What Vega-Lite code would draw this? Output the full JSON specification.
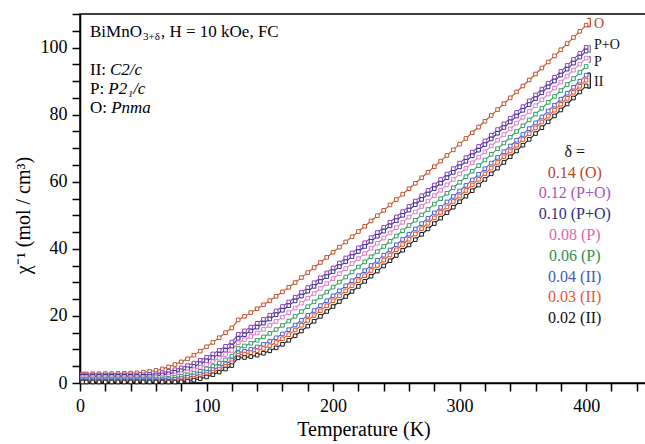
{
"$schema":"https://vega.github.io/schema/vega-lite/v6.json",
"width":567,"height":369,
"autosize":{"type":"none"},
"padding":{"left":80,"top":14,"right":0,"bottom":61},
"background":"white",
"config":{"view":{"stroke":"black","strokeWidth":1.5},"font":"Liberation Serif, Times New Roman, serif",
"style":{"guide-label":{"font":"Liberation Serif, Times New Roman, serif"},"guide-title":{"font":"Liberation Serif, Times New Roman, serif"}},
"axis":{"labelFont":"Liberation Serif, Times New Roman, serif","titleFont":"Liberation Serif, Times New Roman, serif","labelOverlap":false,"labelFlush":false,"grid":false}},
"datasets":{
"curves":[
{"T":2,"a":2.7,"b":2.4,"c":2.0,"d":1.6,"e":1.2,"f":0.9,"g":0.5,"h":0.3},
{"T":5,"a":2.7,"b":2.4,"c":2.0,"d":1.6,"e":1.2,"f":0.9,"g":0.5,"h":0.3},
{"T":10,"a":2.75,"b":2.4,"c":2.0,"d":1.6,"e":1.2,"f":0.9,"g":0.5,"h":0.3},
{"T":15,"a":2.75,"b":2.4,"c":2.0,"d":1.6,"e":1.2,"f":0.9,"g":0.5,"h":0.3},
{"T":20,"a":2.8,"b":2.4,"c":2.0,"d":1.6,"e":1.2,"f":0.9,"g":0.5,"h":0.3},
{"T":25,"a":2.8,"b":2.4,"c":2.0,"d":1.6,"e":1.2,"f":0.9,"g":0.5,"h":0.3},
{"T":30,"a":2.85,"b":2.4,"c":2.0,"d":1.6,"e":1.2,"f":0.9,"g":0.5,"h":0.3},
{"T":35,"a":2.9,"b":2.4,"c":2.0,"d":1.6,"e":1.2,"f":0.9,"g":0.5,"h":0.3},
{"T":40,"a":2.95,"b":2.4,"c":2.0,"d":1.6,"e":1.2,"f":0.9,"g":0.5,"h":0.3},
{"T":45,"a":3.05,"b":2.4,"c":2.0,"d":1.6,"e":1.2,"f":0.9,"g":0.5,"h":0.3},
{"T":50,"a":3.2,"b":2.44,"c":2.0,"d":1.6,"e":1.2,"f":0.9,"g":0.5,"h":0.3},
{"T":55,"a":3.45,"b":2.57,"c":2.05,"d":1.6,"e":1.2,"f":0.9,"g":0.5,"h":0.3},
{"T":60,"a":3.75,"b":2.79,"c":2.18,"d":1.65,"e":1.2,"f":0.9,"g":0.5,"h":0.3},
{"T":65,"a":4.2,"b":3.1,"c":2.41,"d":1.79,"e":1.25,"f":0.9,"g":0.5,"h":0.3},
{"T":70,"a":4.8,"b":3.49,"c":2.73,"d":2.03,"e":1.39,"f":0.95,"g":0.5,"h":0.3},
{"T":75,"a":5.5,"b":3.97,"c":3.15,"d":2.37,"e":1.63,"f":1.09,"g":0.56,"h":0.3},
{"T":80,"a":6.3,"b":4.53,"c":3.65,"d":2.8,"e":1.96,"f":1.33,"g":0.72,"h":0.36},
{"T":85,"a":7.2,"b":5.19,"c":4.25,"d":3.33,"e":2.38,"f":1.67,"g":1.0,"h":0.54},
{"T":90,"a":8.3,"b":5.93,"c":4.94,"d":3.95,"e":2.9,"f":2.1,"g":1.38,"h":0.84},
{"T":95,"a":9.5,"b":6.76,"c":5.72,"d":4.67,"e":3.51,"f":2.63,"g":1.88,"h":1.27},
{"T":100,"a":10.8,"b":7.67,"c":6.59,"d":5.48,"e":4.22,"f":3.25,"g":2.48,"h":1.81},
{"T":105,"a":12.1,"b":8.67,"c":7.56,"d":6.39,"e":5.03,"f":3.97,"g":3.2,"h":2.48},
{"T":110,"a":13.5,"b":9.76,"c":8.61,"d":7.4,"e":5.92,"f":4.78,"g":4.02,"h":3.26},
{"T":115,"a":15.0,"b":10.94,"c":9.76,"d":8.5,"e":6.91,"f":5.69,"g":4.96,"h":4.17},
{"T":120,"a":16.4,"b":12.2,"c":11.0,"d":9.7,"e":8.0,"f":6.7,"g":6.0,"h":5.2},
{"T":125,"a":18.8,"b":14.5,"c":13.3,"d":12.0,"e":10.3,"f":9.0,"g":8.3,"h":7.5},
{"T":130,"a":19.87,"b":15.55,"c":14.37,"d":12.91,"e":11.04,"f":9.47,"g":8.6,"h":7.61},
{"T":135,"a":20.98,"b":16.65,"c":15.48,"d":13.87,"e":11.85,"f":10.04,"g":9.03,"h":7.87},
{"T":140,"a":22.13,"b":17.79,"c":16.64,"d":14.9,"e":12.75,"f":10.74,"g":9.59,"h":8.29},
{"T":145,"a":23.32,"b":18.98,"c":17.84,"d":15.99,"e":13.73,"f":11.54,"g":10.29,"h":8.86},
{"T":150,"a":24.56,"b":20.21,"c":19.08,"d":17.15,"e":14.8,"f":12.46,"g":11.12,"h":9.59},
{"T":155,"a":25.84,"b":21.48,"c":20.36,"d":18.36,"e":15.94,"f":13.49,"g":12.08,"h":10.48},
{"T":160,"a":27.16,"b":22.8,"c":21.68,"d":19.64,"e":17.17,"f":14.64,"g":13.18,"h":11.52},
{"T":165,"a":28.53,"b":24.16,"c":23.05,"d":20.97,"e":18.47,"f":15.9,"g":14.41,"h":12.72},
{"T":170,"a":29.94,"b":25.57,"c":24.47,"d":22.37,"e":19.87,"f":17.27,"g":15.77,"h":14.07},
{"T":175,"a":31.43,"b":27.0,"c":25.9,"d":23.8,"e":21.3,"f":18.7,"g":17.2,"h":15.5},
{"T":180,"a":32.92,"b":28.45,"c":27.35,"d":25.25,"e":22.75,"f":20.15,"g":18.65,"h":16.95},
{"T":185,"a":34.42,"b":29.9,"c":28.8,"d":26.7,"e":24.2,"f":21.6,"g":20.1,"h":18.4},
{"T":190,"a":35.93,"b":31.36,"c":30.26,"d":28.16,"e":25.66,"f":23.06,"g":21.56,"h":19.86},
{"T":195,"a":37.45,"b":32.82,"c":31.72,"d":29.62,"e":27.12,"f":24.52,"g":23.02,"h":21.32},
{"T":200,"a":38.97,"b":34.3,"c":33.2,"d":31.1,"e":28.6,"f":26.0,"g":24.5,"h":22.8},
{"T":205,"a":40.5,"b":35.78,"c":34.68,"d":32.58,"e":30.08,"f":27.48,"g":25.98,"h":24.28},
{"T":210,"a":42.05,"b":37.28,"c":36.18,"d":34.08,"e":31.58,"f":28.98,"g":27.48,"h":25.78},
{"T":215,"a":43.6,"b":38.78,"c":37.68,"d":35.58,"e":33.08,"f":30.48,"g":28.98,"h":27.28},
{"T":220,"a":45.15,"b":40.29,"c":39.19,"d":37.09,"e":34.59,"f":31.99,"g":30.49,"h":28.79},
{"T":225,"a":46.72,"b":41.8,"c":40.7,"d":38.6,"e":36.1,"f":33.5,"g":32.0,"h":30.3},
{"T":230,"a":48.3,"b":43.33,"c":42.23,"d":40.13,"e":37.63,"f":35.03,"g":33.53,"h":31.83},
{"T":235,"a":49.88,"b":44.86,"c":43.76,"d":41.66,"e":39.16,"f":36.56,"g":35.06,"h":33.36},
{"T":240,"a":51.47,"b":46.4,"c":45.3,"d":43.2,"e":40.7,"f":38.1,"g":36.6,"h":34.9},
{"T":245,"a":53.07,"b":47.95,"c":46.85,"d":44.75,"e":42.25,"f":39.65,"g":38.15,"h":36.45},
{"T":250,"a":54.68,"b":49.51,"c":48.41,"d":46.31,"e":43.81,"f":41.21,"g":39.71,"h":38.01},
{"T":255,"a":56.29,"b":51.08,"c":49.98,"d":47.88,"e":45.38,"f":42.78,"g":41.28,"h":39.58},
{"T":260,"a":57.91,"b":52.65,"c":51.55,"d":49.45,"e":46.95,"f":44.35,"g":42.85,"h":41.15},
{"T":265,"a":59.54,"b":54.23,"c":53.13,"d":51.03,"e":48.53,"f":45.93,"g":44.43,"h":42.73},
{"T":270,"a":61.18,"b":55.82,"c":54.72,"d":52.62,"e":50.12,"f":47.52,"g":46.02,"h":44.32},
{"T":275,"a":62.83,"b":57.42,"c":56.32,"d":54.22,"e":51.72,"f":49.12,"g":47.62,"h":45.92},
{"T":280,"a":64.49,"b":59.03,"c":57.93,"d":55.83,"e":53.33,"f":50.73,"g":49.23,"h":47.53},
{"T":285,"a":66.15,"b":60.65,"c":59.55,"d":57.45,"e":54.95,"f":52.35,"g":50.85,"h":49.15},
{"T":290,"a":67.83,"b":62.27,"c":61.17,"d":59.07,"e":56.57,"f":53.97,"g":52.47,"h":50.77},
{"T":295,"a":69.51,"b":63.9,"c":62.8,"d":60.7,"e":58.2,"f":55.6,"g":54.1,"h":52.4},
{"T":300,"a":71.2,"b":65.54,"c":64.44,"d":62.34,"e":59.84,"f":57.24,"g":55.74,"h":54.04},
{"T":305,"a":72.9,"b":67.19,"c":66.09,"d":63.99,"e":61.49,"f":58.89,"g":57.39,"h":55.69},
{"T":310,"a":74.6,"b":68.84,"c":67.74,"d":65.64,"e":63.14,"f":60.54,"g":59.04,"h":57.34},
{"T":315,"a":76.31,"b":70.51,"c":69.41,"d":67.31,"e":64.81,"f":62.21,"g":60.71,"h":59.01},
{"T":320,"a":78.03,"b":72.18,"c":71.08,"d":68.98,"e":66.48,"f":63.88,"g":62.38,"h":60.68},
{"T":325,"a":79.76,"b":73.86,"c":72.76,"d":70.66,"e":68.16,"f":65.56,"g":64.06,"h":62.36},
{"T":330,"a":81.5,"b":75.55,"c":74.45,"d":72.35,"e":69.85,"f":67.25,"g":65.75,"h":64.05},
{"T":335,"a":83.25,"b":77.25,"c":76.15,"d":74.05,"e":71.55,"f":68.95,"g":67.45,"h":65.75},
{"T":340,"a":85.01,"b":78.95,"c":77.85,"d":75.75,"e":73.25,"f":70.65,"g":69.15,"h":67.45},
{"T":345,"a":86.77,"b":80.67,"c":79.57,"d":77.47,"e":74.97,"f":72.37,"g":70.87,"h":69.17},
{"T":350,"a":88.54,"b":82.39,"c":81.29,"d":79.19,"e":76.69,"f":74.09,"g":72.59,"h":70.89},
{"T":355,"a":90.32,"b":84.12,"c":83.02,"d":80.92,"e":78.42,"f":75.82,"g":74.32,"h":72.62},
{"T":360,"a":92.11,"b":85.86,"c":84.76,"d":82.66,"e":80.16,"f":77.56,"g":76.06,"h":74.36},
{"T":365,"a":93.9,"b":87.61,"c":86.51,"d":84.41,"e":81.91,"f":79.31,"g":77.81,"h":76.11},
{"T":370,"a":95.7,"b":89.36,"c":88.26,"d":86.16,"e":83.66,"f":81.06,"g":79.56,"h":77.86},
{"T":375,"a":97.52,"b":91.12,"c":90.02,"d":87.92,"e":85.42,"f":82.82,"g":81.32,"h":79.62},
{"T":380,"a":99.34,"b":92.89,"c":91.79,"d":89.69,"e":87.19,"f":84.59,"g":83.09,"h":81.39},
{"T":385,"a":101.16,"b":94.67,"c":93.57,"d":91.47,"e":88.97,"f":86.37,"g":84.87,"h":83.17},
{"T":390,"a":103.0,"b":96.46,"c":95.36,"d":93.26,"e":90.76,"f":88.16,"g":86.66,"h":84.96},
{"T":395,"a":104.85,"b":98.26,"c":97.16,"d":95.06,"e":92.56,"f":89.96,"g":88.46,"h":86.76},
{"T":400,"a":106.7,"b":100.06,"c":98.96,"d":96.86,"e":94.36,"f":91.76,"g":90.26,"h":88.56}
],
"topleft":[
{"T":7.9,"v":104.6,"t":"BiMnO"},
{"T":64.0,"v":104.6,"t":", H = 10 kOe, FC"},
{"T":7.9,"v":93.3,"t":"II:"},
{"T":7.9,"v":87.6,"t":"P:"},
{"T":7.9,"v":82.0,"t":"O:"}
],
"sub":[{"T":49.8,"v":103.0,"t":"3+δ"}],
"ital":[
{"T":23.7,"v":93.3,"t":"C2/c"},
{"T":22.4,"v":87.6,"t":"P2₁/c"},
{"T":24.6,"v":82.0,"t":"Pnma"}
],
"legend":[
{"T":391,"v":68.9,"t":"δ ="},
{"T":391,"v":62.6,"t":"0.14 (O)"},
{"T":391,"v":56.6,"t":"0.12 (P+O)"},
{"T":391,"v":50.4,"t":"0.10 (P+O)"},
{"T":391,"v":44.1,"t":"0.08 (P)"},
{"T":391,"v":37.9,"t":"0.06 (P)"},
{"T":391,"v":31.6,"t":"0.04 (II)"},
{"T":391,"v":25.6,"t":"0.03 (II)"},
{"T":391,"v":19.4,"t":"0.02 (II)"}
],
"phase":[
{"T":406.2,"v":107.0,"t":"O"},
{"T":406.2,"v":100.7,"t":"P+O"},
{"T":406.2,"v":95.7,"t":"P"},
{"T":406.2,"v":89.7,"t":"II"}
],
"brackets":[
{"g":"O","T":401.0,"T2":403.3,"v":108.7,"v2":108.7},
{"g":"O","T":403.3,"T2":403.3,"v":108.7,"v2":106.2},
{"g":"O","T":401.0,"T2":403.3,"v":106.2,"v2":106.2},
{"g":"P+O","T":402.0,"T2":403.3,"v":100.6,"v2":100.6},
{"g":"P+O","T":403.3,"T2":403.3,"v":100.6,"v2":98.6},
{"g":"P+O","T":402.0,"T2":403.3,"v":98.6,"v2":98.6},
{"g":"P","T":402.0,"T2":403.3,"v":97.3,"v2":97.3},
{"g":"P","T":403.3,"T2":403.3,"v":97.3,"v2":95.6},
{"g":"P","T":402.0,"T2":403.3,"v":95.6,"v2":95.6},
{"g":"II","T":401.0,"T2":403.3,"v":92.4,"v2":92.4},
{"g":"II","T":403.3,"T2":403.3,"v":92.4,"v2":87.9},
{"g":"II","T":401.0,"T2":403.3,"v":87.9,"v2":87.9}
]
},
"encoding":{
"x":{"field":"T","type":"quantitative","title":"Temperature (K)","scale":{"domain":[0,448.1],"nice":false,"zero":false},
"axis":{"values":[0,20,40,60,80,100,120,140,160,180,200,220,240,260,280,300,320,340,360,380,400,420,440],
"labelExpr":"datum.value % 100 === 0 ? datum.label : ''","grid":false,"tickSize":8,"tickWidth":1.5,"tickColor":"black",
"domainColor":"black","domainWidth":1.5,"labelFont":"Liberation Serif, Times New Roman, serif","labelFontSize":18,"labelColor":"black","labelPadding":6,
"labelFlush":false,"labelOverlap":false,"titleFont":"Liberation Serif, Times New Roman, serif","titleFontSize":20,"titleFontWeight":"normal","titleColor":"black","titlePadding":4}},
"y":{"field":"v","type":"quantitative","title":"χ⁻¹ (mol / cm³)","scale":{"domain":[0,110],"nice":false,"zero":false},
"axis":{"values":[0,5,10,15,20,25,30,35,40,45,50,55,60,65,70,75,80,85,90,95,100,105,110],
"labelExpr":"datum.value % 20 === 0 ? datum.label : ''","grid":false,"tickSize":8,"tickWidth":1.5,"tickColor":"black",
"domainColor":"black","domainWidth":1.5,"labelFont":"Liberation Serif, Times New Roman, serif","labelFontSize":18,"labelColor":"black","labelPadding":5,
"labelFlush":false,"labelOverlap":false,"titleFont":"Liberation Serif, Times New Roman, serif","titleFontSize":20,"titleFontWeight":"normal","titleColor":"black",
"titleAngle":-90,"titleX":-57,"titleY":201,"titleAlign":"center","titleBaseline":"middle"}}
},
"layer":[
{
"data":{"name":"curves"},
"transform":[{"fold":["a","b","c","d","e","f","g","h"],"as":["s","v"]}],
"mark":{"type":"line","strokeWidth":1.1},
"encoding":{
"color":{"field":"s","type":"nominal","scale":{"domain":["a","b","c","d","e","f","g","h"],"range":["#c0532e","#8c3fc0","#3a2f8a","#e27ac8","#2fa05e","#4a60d0","#f0501e","#1a1a1a"]},"legend":null}
}
},
{
"data":{"name":"curves"},
"transform":[{"fold":["a","b","c","d","e","f","g","h"],"as":["s","v"]}],
"mark":{"type":"point","shape":"square","filled":true,"fill":"white","size":13,"strokeWidth":1,"opacity":1},
"encoding":{
"stroke":{"field":"s","type":"nominal","scale":{"domain":["a","b","c","d","e","f","g","h"],"range":["#c0532e","#8c3fc0","#3a2f8a","#e27ac8","#2fa05e","#4a60d0","#f0501e","#1a1a1a"]},"legend":null}
}
},
{
"data":{"name":"topleft"},
"mark":{"type":"text","font":"Liberation Serif","fontSize":17,"align":"left","baseline":"middle","color":"black"},
"encoding":{"text":{"field":"t"}}
},
{
"data":{"name":"sub"},
"mark":{"type":"text","font":"Liberation Serif","fontSize":11,"align":"left","baseline":"middle","color":"black"},
"encoding":{"text":{"field":"t"}}
},
{
"data":{"name":"ital"},
"mark":{"type":"text","font":"Liberation Serif","fontSize":17,"fontStyle":"italic","align":"left","baseline":"middle","color":"black"},
"encoding":{"text":{"field":"t"}}
},
{
"data":{"name":"legend"},
"mark":{"type":"text","font":"Liberation Serif","fontSize":16,"align":"center","baseline":"middle"},
"encoding":{"text":{"field":"t"},
"color":{"field":"t","type":"nominal","scale":{"domain":["δ =","0.14 (O)","0.12 (P+O)","0.10 (P+O)","0.08 (P)","0.06 (P)","0.04 (II)","0.03 (II)","0.02 (II)"],"range":["#111111","#b0452a","#a455c0","#2e2e7e","#d865b5","#2f8d50","#4558b5","#e5582e","#111111"]},"legend":null}}
},
{
"data":{"name":"phase"},
"mark":{"type":"text","font":"Liberation Serif","fontSize":14,"align":"left","baseline":"middle"},
"encoding":{"text":{"field":"t"},
"color":{"field":"t","type":"nominal","scale":{"domain":["O","P+O","P","II"],"range":["#b0452a","#111111","#111111","#111111"]},"legend":null}}
},
{
"data":{"name":"brackets"},
"mark":{"type":"rule","strokeWidth":1.2},
"encoding":{"x2":{"field":"T2"},"y2":{"field":"v2"},
"color":{"field":"g","type":"nominal","scale":{"domain":["O","P+O","P","II"],"range":["#b0452a","#777777","#777777","#111111"]},"legend":null}}
}
],
"resolve":{"scale":{"color":"independent","stroke":"independent"}}
}
